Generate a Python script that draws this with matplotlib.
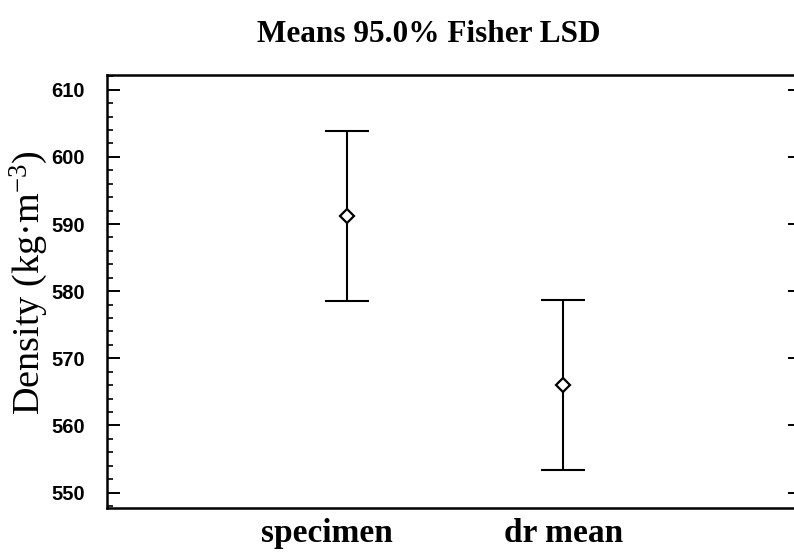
import matplotlib.pyplot as plt
from matplotlib.ticker import MultipleLocator
from matplotlib.transforms import ScaledTranslation

plt.rcParams['mathtext.fontset'] = 'custom'
plt.rcParams['mathtext.rm'] = 'Liberation Serif'
plt.rcParams['mathtext.it'] = 'Liberation Serif:italic'
plt.rcParams['mathtext.bf'] = 'Liberation Serif:bold'

groups = ['specimen', 'dr mean']
means = [591.2, 566.0]
lsd_half = [12.7, 12.65]

fig = plt.figure(figsize=(7.94, 5.53), dpi=100)
W, H = 794, 553
ax = fig.add_axes([107 / W, (H - 508) / H, (801 - 107) / W, (508 - 75) / H])

x = [1, 2]
ax.errorbar(x, means, yerr=lsd_half, fmt='none', ecolor='black',
            elinewidth=1.5, capsize=16, capthick=1.5)
ax.plot(x, means, linestyle='none', marker='D', markersize=7,
        markerfacecolor='white', markeredgecolor='black', markeredgewidth=1.6)

ax.set_xlim(-0.107, 3.097)
ax.set_ylim(547.7, 612.2)
ax.yaxis.set_major_locator(MultipleLocator(10))
ax.yaxis.set_minor_locator(MultipleLocator(2))
ax.tick_params(axis='y', which='major', direction='in', length=9.5, width=1.4,
               pad=16, right=True, labelsize=14.5)
ax.tick_params(axis='y', which='minor', direction='in', length=4.5, width=1.2,
               right=True)
for lbl in ax.get_yticklabels():
    lbl.set_fontfamily('Liberation Sans')
    lbl.set_fontweight('bold')

ax.set_xticks(x)
ax.set_xticklabels(groups, fontfamily='Liberation Serif', fontweight='bold',
                   fontsize=24)
ax.tick_params(axis='x', length=0, pad=7)
# the first category label sits a little left of its bar in the original
first = ax.get_xticklabels()[0]
first.set_transform(first.get_transform() + ScaledTranslation(-0.2, 0, fig.dpi_scale_trans))

for sp in ax.spines.values():
    sp.set_linewidth(1.8)

fig.text(429 / W, 1 - 35 / H, 'Means 95.0% Fisher LSD', ha='center', va='center',
         fontfamily='Liberation Serif', fontweight='bold', fontsize=22.5)
fig.text(29 / W, 1 - 283 / H, 'Density (kg·m$^{-3}$)', rotation=90,
         ha='center', va='center', fontfamily='Liberation Serif', fontsize=27.5)

fig.savefig('out.png', dpi=100)
